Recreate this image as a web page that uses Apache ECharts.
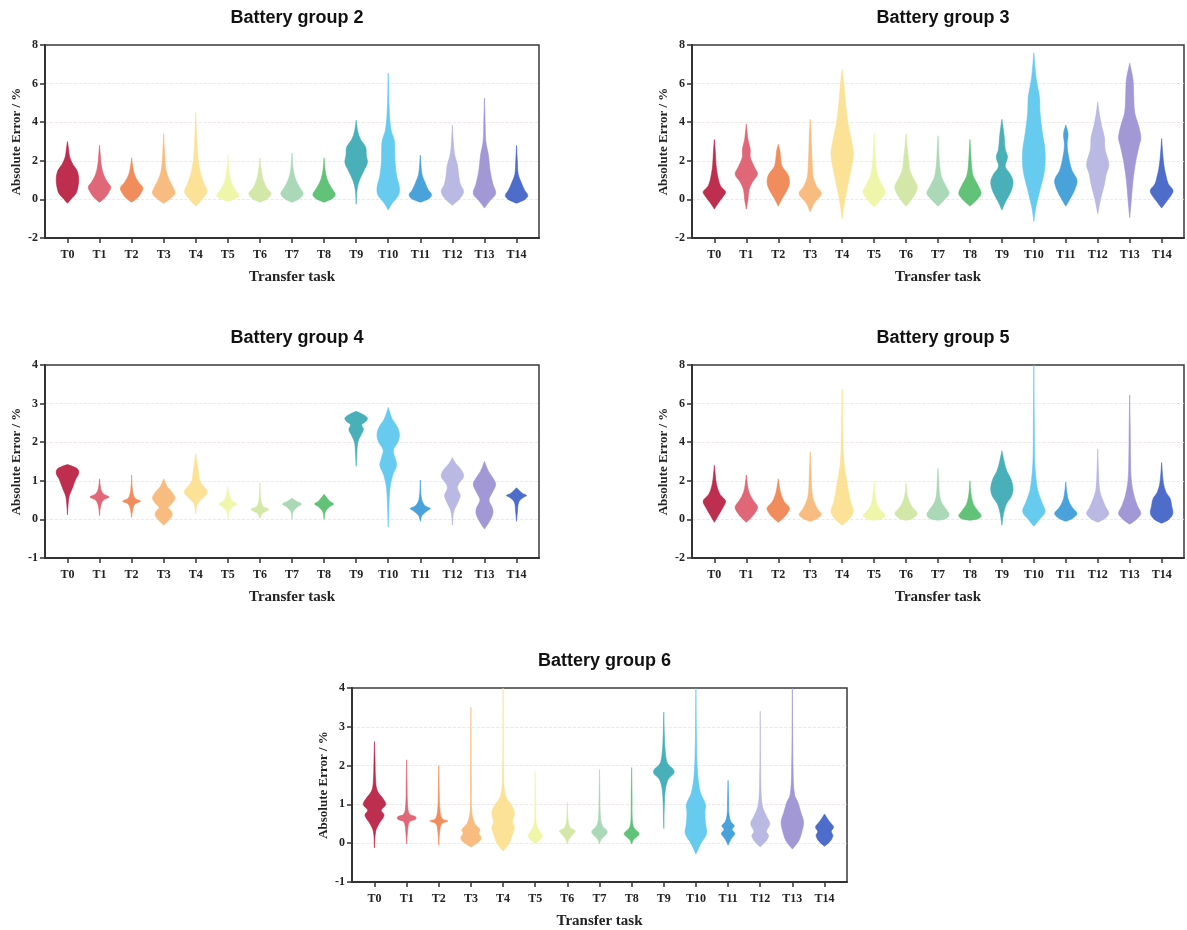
<!DOCTYPE html>
<html>
<head>
<meta charset="utf-8">
<script src="https://cdn.jsdelivr.net/npm/echarts@6/dist/echarts.min.js"></script>
<style>
  html, body { margin: 0; padding: 0; background: #fff; }
  #main { width: 1187px; height: 930px; }
</style>
</head>
<body>
<div id="main"></div>
<script>
// transfer tasks on the x axis
const tasks = ['T0','T1','T2','T3','T4','T5','T6','T7','T8','T9','T10','T11','T12','T13','T14'];
const taskIdx = [0,1,2,3,4,5,6,7,8,9,10,11,12,13,14];
const colors = ['#b71c40','#dd5a6b','#f0834f','#f8b675','#fbe08e','#eef5a2','#cfe6a1','#a4d6b2','#55bd6d',
  '#3aa9b3','#5ac6ee','#3a9bd7','#b3b3e2','#9a8fd3','#3f60c4'];

// violin outlines: [absolute error, relative half width]
const g2 = [
  [[-0.2,0],[0,0.3],[0.3,0.75],[0.7,0.95],[1.1,1],[1.5,0.85],[1.8,0.5],[2.2,0.2],[2.6,0.1],[3.0,0]],
  [[-0.15,0],[0.1,0.5],[0.4,0.85],[0.65,1],[0.9,0.7],[1.3,0.35],[1.8,0.15],[2.3,0.07],[2.8,0]],
  [[-0.15,0],[0.1,0.55],[0.35,0.85],[0.6,1],[0.9,0.6],[1.3,0.25],[1.7,0.1],[2.15,0]],
  [[-0.2,0],[0,0.5],[0.3,1],[0.6,0.85],[1.0,0.5],[1.5,0.22],[2.2,0.1],[3.4,0]],
  [[-0.35,0],[0,0.55],[0.4,1],[0.8,0.75],[1.3,0.45],[2,0.22],[3,0.1],[4.5,0]],
  [[-0.1,0],[0.05,0.7],[0.2,1],[0.5,0.65],[0.9,0.3],[1.5,0.1],[2.3,0]],
  [[-0.15,0],[0.05,0.7],[0.3,1],[0.6,0.6],[1,0.3],[1.5,0.12],[2.15,0]],
  [[-0.15,0],[0.05,0.7],[0.3,1],[0.6,0.7],[1,0.35],[1.5,0.12],[2.4,0]],
  [[-0.15,0],[0.05,0.75],[0.25,1],[0.6,0.65],[1,0.3],[1.5,0.1],[2.15,0]],
  [[-0.25,0],[0.5,0.08],[1.0,0.3],[1.5,0.7],[1.9,1],[2.3,0.9],[2.7,0.85],[3.1,0.4],[3.5,0.15],[4.1,0]],
  [[-0.55,0],[-0.2,0.35],[0.2,0.9],[0.6,1],[1.2,0.75],[2,0.6],[3,0.55],[3.6,0.25],[4.5,0.1],[6.55,0]],
  [[-0.15,0],[0.05,0.8],[0.25,1],[0.5,0.7],[0.9,0.4],[1.3,0.15],[2.3,0]],
  [[-0.3,0],[0,0.6],[0.4,1],[0.8,0.7],[1.3,0.55],[1.8,0.45],[2.3,0.2],[3,0.08],[3.85,0]],
  [[-0.45,0],[-0.1,0.45],[0.3,1],[0.8,0.75],[1.5,0.5],[2.3,0.35],[3,0.12],[4,0.06],[5.25,0]],
  [[-0.2,0],[0,0.75],[0.2,1],[0.5,0.7],[0.9,0.4],[1.3,0.15],[2,0.07],[2.8,0]]
];
const g3 = [
  [[-0.5,0],[-0.15,0.4],[0.2,0.85],[0.4,1],[0.7,0.55],[1.2,0.3],[1.8,0.15],[2.5,0.08],[3.1,0]],
  [[-0.5,0],[0,0.15],[0.5,0.25],[0.9,0.55],[1.3,1],[1.7,0.7],[2.2,0.35],[2.6,0.35],[3.1,0.15],[3.9,0]],
  [[-0.35,0],[0,0.3],[0.5,0.8],[0.9,1],[1.3,0.85],[1.7,0.35],[2.2,0.2],[2.5,0.15],[2.85,0]],
  [[-0.65,0],[-0.2,0.35],[0.3,1],[0.7,0.55],[1.2,0.25],[1.8,0.18],[2.5,0.12],[3.3,0.08],[4.15,0]],
  [[-1,0],[0,0.25],[1,0.6],[2.3,1],[3,0.85],[4,0.5],[5,0.3],[6,0.15],[6.75,0]],
  [[-0.4,0],[0,0.6],[0.4,1],[0.8,0.65],[1.3,0.3],[2,0.12],[2.7,0.06],[3.4,0]],
  [[-0.35,0],[0,0.5],[0.4,0.9],[0.7,1],[1.1,0.65],[1.5,0.35],[2.2,0.2],[2.7,0.1],[3.4,0]],
  [[-0.35,0],[0,0.6],[0.3,1],[0.7,0.7],[1.2,0.3],[2,0.12],[2.6,0.07],[3.3,0]],
  [[-0.35,0],[0,0.65],[0.3,1],[0.7,0.75],[1.2,0.3],[1.7,0.15],[2.4,0.07],[3.1,0]],
  [[-0.55,0],[-0.1,0.35],[0.4,0.8],[0.9,1],[1.3,0.75],[1.7,0.3],[2.2,0.5],[2.6,0.3],[3.3,0.2],[4.15,0]],
  [[-1.15,0],[-0.5,0.15],[0.5,0.55],[1.5,0.95],[2.5,1],[3.5,0.75],[4.5,0.55],[5.3,0.5],[6.3,0.2],[7.6,0]],
  [[-0.35,0],[0,0.35],[0.5,0.8],[1,1],[1.5,0.55],[2.2,0.25],[2.8,0.12],[3.4,0.2],[3.85,0]],
  [[-0.75,0],[0,0.25],[0.8,0.6],[1.3,0.75],[1.8,1],[2.6,0.65],[3.2,0.6],[3.8,0.35],[4.4,0.15],[5.05,0]],
  [[-0.95,0],[0,0.15],[1,0.3],[2,0.55],[2.8,0.85],[3.2,1],[3.8,0.8],[4.5,0.45],[5.5,0.35],[6.2,0.3],[7.05,0]],
  [[-0.45,0],[-0.1,0.45],[0.3,0.95],[0.5,1],[0.8,0.6],[1.2,0.4],[1.6,0.25],[2.2,0.12],[3.15,0]]
];
const g4 = [
  [[0.12,0],[0.4,0.06],[0.6,0.15],[0.75,0.35],[0.9,0.55],[1.05,0.75],[1.15,0.95],[1.25,1],[1.33,0.8],[1.42,0]],
  [[0.1,0],[0.35,0.1],[0.5,0.35],[0.58,0.85],[0.66,0.35],[0.8,0.1],[1.05,0]],
  [[0.05,0],[0.25,0.1],[0.4,0.3],[0.47,0.8],[0.55,0.3],[0.75,0.08],[1.15,0]],
  [[-0.15,0],[-0.05,0.35],[0.1,0.75],[0.2,0.7],[0.3,0.4],[0.42,0.75],[0.55,1],[0.68,0.8],[0.85,0.3],[1.05,0]],
  [[0.15,0],[0.4,0.15],[0.55,0.6],[0.65,0.95],[0.75,1],[0.85,0.7],[1.0,0.35],[1.2,0.25],[1.45,0.12],[1.7,0]],
  [[0,0],[0.2,0.1],[0.33,0.45],[0.4,0.8],[0.47,0.4],[0.6,0.15],[0.85,0]],
  [[0.02,0],[0.15,0.2],[0.22,0.6],[0.27,0.8],[0.33,0.3],[0.5,0.08],[0.95,0]],
  [[0,0],[0.2,0.1],[0.33,0.5],[0.4,0.85],[0.47,0.4],[0.55,0]],
  [[0,0],[0.2,0.12],[0.33,0.5],[0.4,0.85],[0.47,0.5],[0.65,0]],
  [[1.38,0],[1.7,0.06],[2.0,0.15],[2.2,0.45],[2.33,0.65],[2.45,0.5],[2.55,0.9],[2.63,1],[2.72,0.6],[2.8,0]],
  [[-0.2,0],[0.3,0.06],[0.8,0.15],[1.15,0.4],[1.4,0.75],[1.6,0.6],[1.8,0.45],[2.0,0.85],[2.2,1],[2.4,0.8],[2.6,0.35],[2.9,0]],
  [[-0.05,0],[0.1,0.15],[0.22,0.6],[0.28,0.9],[0.36,0.4],[0.55,0.1],[1.02,0]],
  [[-0.15,0],[0.2,0.12],[0.45,0.5],[0.62,0.7],[0.8,0.45],[0.92,0.55],[1.05,0.9],[1.15,1],[1.3,0.75],[1.45,0.3],[1.6,0]],
  [[-0.25,0],[-0.05,0.45],[0.15,0.75],[0.3,0.7],[0.5,0.4],[0.7,0.7],[0.9,1],[1.05,0.8],[1.25,0.35],[1.5,0]],
  [[-0.05,0],[0.2,0.08],[0.45,0.2],[0.57,0.6],[0.62,0.9],[0.68,0.5],[0.82,0]]
];
const g5 = [
  [[-0.15,0],[0.2,0.35],[0.6,0.75],[0.95,1],[1.3,0.5],[1.8,0.2],[2.3,0.08],[2.8,0]],
  [[-0.15,0],[0.1,0.45],[0.4,0.85],[0.65,1],[1.0,0.6],[1.4,0.25],[1.8,0.1],[2.3,0]],
  [[-0.15,0],[0.1,0.5],[0.35,0.85],[0.6,1],[0.9,0.55],[1.3,0.25],[1.7,0.1],[2.1,0]],
  [[-0.1,0],[0.05,0.65],[0.25,1],[0.5,0.7],[0.9,0.35],[1.4,0.15],[2.3,0.08],[3.5,0]],
  [[-0.3,0],[0,0.6],[0.4,1],[0.9,0.75],[1.5,0.55],[2.2,0.35],[3,0.15],[4.5,0.06],[6.75,0]],
  [[-0.05,0],[0.05,0.7],[0.2,1],[0.45,0.6],[0.8,0.25],[1.3,0.1],[1.95,0]],
  [[-0.05,0],[0.05,0.6],[0.3,1],[0.6,0.6],[0.9,0.3],[1.3,0.1],[1.9,0]],
  [[-0.05,0],[0.05,0.75],[0.25,1],[0.55,0.7],[0.9,0.3],[1.4,0.12],[2,0.07],[2.65,0]],
  [[-0.05,0],[0.05,0.8],[0.2,1],[0.45,0.7],[0.8,0.3],[1.3,0.1],[2.0,0]],
  [[-0.3,0],[0.3,0.15],[0.8,0.4],[1.2,0.85],[1.6,1],[2.1,0.8],[2.5,0.45],[3,0.2],[3.55,0]],
  [[-0.35,0],[0,0.5],[0.4,1],[0.9,0.7],[1.5,0.35],[2.2,0.18],[3,0.08],[5,0.04],[8,0]],
  [[-0.1,0],[0.05,0.6],[0.3,1],[0.6,0.6],[0.9,0.3],[1.3,0.12],[1.95,0]],
  [[-0.15,0],[0.05,0.65],[0.3,1],[0.6,0.75],[1,0.45],[1.5,0.18],[2.3,0.08],[3.65,0]],
  [[-0.25,0],[0,0.6],[0.3,1],[0.7,0.7],[1.2,0.4],[2,0.15],[3,0.08],[4.5,0.05],[6.45,0]],
  [[-0.2,0],[0,0.65],[0.3,1],[0.7,0.9],[1.1,0.75],[1.4,0.4],[1.9,0.15],[2.95,0]]
];
const g6 = [
  [[-0.12,0],[0.3,0.1],[0.5,0.4],[0.72,0.85],[0.85,0.6],[1.0,1],[1.15,0.75],[1.35,0.25],[1.6,0.1],[2.1,0.05],[2.62,0]],
  [[-0.02,0],[0.3,0.08],[0.55,0.25],[0.62,0.8],[0.68,0.8],[0.75,0.25],[1.0,0.08],[1.5,0.04],[2.15,0]],
  [[-0.05,0],[0.3,0.08],[0.5,0.25],[0.57,0.8],[0.63,0.3],[0.85,0.1],[1.3,0.04],[2.0,0]],
  [[-0.1,0],[0.05,0.75],[0.15,0.9],[0.25,0.7],[0.35,0.8],[0.5,0.35],[0.8,0.08],[1.5,0.04],[3.5,0]],
  [[-0.2,0],[0,0.55],[0.2,0.8],[0.4,1],[0.55,0.85],[0.8,1],[1.0,0.7],[1.2,0.25],[1.6,0.06],[4.0,0]],
  [[-0.02,0],[0.08,0.4],[0.2,0.65],[0.3,0.4],[0.5,0.1],[1.0,0.04],[1.85,0]],
  [[-0.02,0],[0.1,0.15],[0.25,0.55],[0.32,0.7],[0.4,0.25],[0.6,0.06],[1.05,0]],
  [[-0.02,0],[0.1,0.15],[0.25,0.65],[0.33,0.65],[0.45,0.25],[0.7,0.08],[1.2,0.04],[1.9,0]],
  [[-0.02,0],[0.1,0.2],[0.22,0.65],[0.28,0.6],[0.4,0.2],[0.6,0.06],[1.2,0.04],[1.95,0]],
  [[0.38,0],[1.05,0.06],[1.4,0.15],[1.65,0.4],[1.8,0.9],[1.9,0.85],[2.05,0.35],[2.3,0.15],[2.8,0.05],[3.38,0]],
  [[-0.28,0],[0,0.45],[0.25,0.95],[0.5,0.85],[0.8,0.8],[1.0,0.85],[1.3,0.4],[1.8,0.15],[2.5,0.06],[4.0,0]],
  [[-0.05,0],[0.1,0.25],[0.25,0.6],[0.35,0.35],[0.45,0.55],[0.55,0.25],[0.75,0.08],[1.1,0.05],[1.62,0]],
  [[-0.1,0],[0.05,0.5],[0.2,0.75],[0.3,0.55],[0.5,0.85],[0.7,0.55],[0.95,0.2],[1.5,0.06],[3.4,0]],
  [[-0.15,0],[0.05,0.55],[0.3,0.85],[0.55,1],[0.8,0.75],[1.05,0.5],[1.25,0.2],[1.8,0.07],[4.0,0]],
  [[-0.08,0],[0.05,0.5],[0.2,0.75],[0.3,0.6],[0.42,0.8],[0.55,0.45],[0.75,0]]
];

const HALF = 0.35; // max half width of a violin, in task units
const serif = 'Liberation Serif';

const panels = [
  { title: 'Battery group 2', data: g2, min: -2, max: 8, step: 2, left: 45, top: 45, width: 494, height: 193 },
  { title: 'Battery group 3', data: g3, min: -2, max: 8, step: 2, left: 692, top: 45, width: 492, height: 193 },
  { title: 'Battery group 4', data: g4, min: -1, max: 4, step: 1, left: 45, top: 365, width: 494, height: 193 },
  { title: 'Battery group 5', data: g5, min: -2, max: 8, step: 2, left: 692, top: 365, width: 492, height: 193 },
  { title: 'Battery group 6', data: g6, min: -1, max: 4, step: 1, left: 352, top: 688, width: 495, height: 194 }
];

function violin(profiles) {
  return function (params, api) {
    var i = api.value(0);
    var p = profiles[i];
    var pts = [];
    for (var k = 0; k < p.length; k++) pts.push(api.coord([i + p[k][1] * HALF, p[k][0]]));
    for (var k = p.length - 1; k >= 0; k--) pts.push(api.coord([i - p[k][1] * HALF, p[k][0]]));
    return {
      type: 'polygon',
      shape: { points: pts, smooth: 0.35 },
      style: { fill: colors[i], opacity: 0.92, stroke: colors[i], lineWidth: 0.6 }
    };
  };
}

const chart = echarts.init(document.getElementById('main'));
const option = {
  backgroundColor: '#fff',
  animation: false,
  title: [], grid: [], xAxis: [], yAxis: [], series: []
};

panels.forEach(function (pn, n) {
  option.title.push({
    text: pn.title,
    left: pn.left + pn.width / 2,
    top: pn.top - 41,
    textAlign: 'center',
    textStyle: { fontFamily: 'Liberation Sans', fontWeight: 'bold', fontSize: 18, color: '#111' }
  });
  option.grid.push({
    left: pn.left, top: pn.top, width: pn.width, height: pn.height,
    show: true, borderColor: '#3a3a3a', borderWidth: 1.5, backgroundColor: 'transparent'
  });
  option.xAxis.push({
    type: 'value', gridIndex: n, min: -0.7, max: 14.7,
    name: 'Transfer task', nameLocation: 'middle', nameGap: 32,
    nameTextStyle: { fontFamily: serif, fontWeight: 'bold', fontSize: 15, color: '#222' },
    axisLine: { show: true, onZero: false, lineStyle: { color: '#333', width: 2 } },
    axisTick: { show: true, length: 5, customValues: taskIdx, lineStyle: { color: '#333', width: 1.5 } },
    axisLabel: {
      customValues: taskIdx, margin: 11,
      formatter: function (v) { return tasks[Math.round(v)]; },
      fontFamily: serif, fontWeight: 'bold', fontSize: 12, color: '#222'
    },
    splitLine: { show: false }
  });
  option.yAxis.push({
    type: 'value', gridIndex: n, min: pn.min, max: pn.max, interval: pn.step,
    name: 'Absolute Error / %', nameLocation: 'middle', nameGap: 22,
    nameTextStyle: { fontFamily: serif, fontWeight: 'bold', fontSize: 13, color: '#222' },
    axisLine: { show: true, onZero: false, lineStyle: { color: '#333', width: 2 } },
    axisTick: { show: true, length: 5, lineStyle: { color: '#333', width: 1.5 } },
    axisLabel: { margin: 7, fontFamily: serif, fontWeight: 'bold', fontSize: 12, color: '#222' },
    splitLine: { show: true, showMinLine: false, showMaxLine: false,
      lineStyle: { color: '#efe0e2', type: 'dashed', width: 0.8 } }
  });
  option.series.push({
    type: 'custom',
    xAxisIndex: n, yAxisIndex: n,
    clip: true,
    renderItem: violin(pn.data),
    encode: { x: 0, y: [1, 2] },
    data: taskIdx.map(function (i) {
      var p = pn.data[i];
      return [i, p[0][0], p[p.length - 1][0]];
    })
  });
});

chart.setOption(option);
</script>
</body>
</html>
